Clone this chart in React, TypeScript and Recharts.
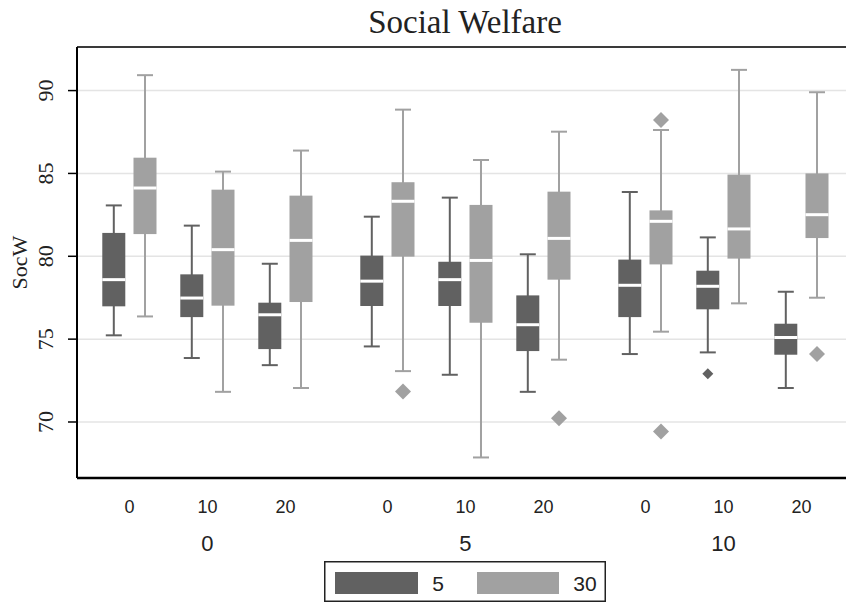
import type { FC } from "react";
import { ComposedChart, Bar, XAxis, YAxis, CartesianGrid, Legend } from "recharts";

// categories: outer group, inner sub-category, series
const GROUPS = ["0", "5", "10"];
const SUBS = ["0", "10", "20"];
const SERIES = ["5", "30"];
const Y_TICKS = [70, 75, 80, 85, 90];

// series "5" — one value per group x sub (0/0, 0/10, 0/20, 5/0, ...)
const LOW_5 = [75.23, 73.86, 73.43, 74.56, 72.85, 71.82, 74.1, 74.2, 72.05];
const Q1_5 = [76.98, 76.33, 74.4, 77.0, 77.0, 74.28, 76.33, 76.8, 74.06];
const MED_5 = [78.59, 77.48, 76.47, 78.5, 78.59, 75.87, 78.25, 78.19, 75.1];
const Q3_5 = [81.41, 78.91, 77.2, 80.04, 79.67, 77.64, 79.8, 79.13, 75.93];
const HIGH_5 = [83.07, 81.85, 79.55, 82.39, 83.54, 80.12, 83.88, 81.14, 77.86];
const OUT_5: number[][] = [[], [], [], [], [], [], [], [72.91], []];

// series "30"
const LOW_30 = [76.37, 71.82, 72.05, 73.07, 67.86, 73.76, 75.45, 77.16, 77.5];
const Q1_30 = [81.34, 77.02, 77.24, 79.98, 75.99, 78.59, 79.51, 79.86, 81.1];
const MED_30 = [84.12, 80.4, 80.96, 83.32, 79.75, 81.08, 82.11, 81.65, 82.51];
const Q3_30 = [85.95, 84.02, 83.66, 84.47, 83.1, 83.9, 82.77, 84.93, 85.0];
const HIGH_30 = [90.93, 85.11, 86.38, 88.85, 85.81, 87.52, 87.62, 91.25, 89.9];
const OUT_30: number[][] = [[], [], [], [71.84], [], [70.23], [88.23, 69.43], [], [74.1]];

const COLORS: Record<string, string> = { "5": "#616161", "30": "#a1a1a1" };
const OUTLIER_R: Record<string, number> = { "5": 5.5, "30": 8 };

const GROUP_GAP = 0.3077;
const BOX_SHIFT = 0.2;
const X_MIN = -0.673;
const X_MAX = 9.186;
const Y_MIN = 66.62;
const Y_MAX = 92.63;

const STATS = [
  { low: LOW_5, q1: Q1_5, med: MED_5, q3: Q3_5, high: HIGH_5, out: OUT_5 },
  { low: LOW_30, q1: Q1_30, med: MED_30, q3: Q3_30, high: HIGH_30, out: OUT_30 },
];

const pairPos = (gi: number, k: number) => gi * (SUBS.length + GROUP_GAP) + k;
const PAIR_POS = GROUPS.flatMap((_, gi) => SUBS.map((_, k) => pairPos(gi, k)));
const GROUP_POS = GROUPS.map((_, gi) => pairPos(gi, 1));

const rows = SERIES.flatMap((s, si) =>
  GROUPS.flatMap((_, gi) =>
    SUBS.map((_, k) => {
      const i = gi * SUBS.length + k;
      const st = STATS[si];
      const outliers = st.out[i];
      return {
        pos: pairPos(gi, k) + (si === 0 ? -BOX_SHIFT : BOX_SHIFT),
        series: s,
        low: st.low[i],
        q1: st.q1[i],
        med: st.med[i],
        q3: st.q3[i],
        high: st.high[i],
        outliers,
        range: [Math.min(st.low[i], ...outliers), Math.max(st.high[i], ...outliers)],
      };
    })
  )
).sort((a, b) => a.pos - b.pos);

const BoxShape = (props: any) => {
  const { x, y, width, height, payload } = props;
  const top = Math.min(y, y + height);
  const h = Math.abs(height);
  const [lo, hi] = payload.range;
  const toY = (v: number) => top + (h * (hi - v)) / (hi - lo);
  const cx = x + width / 2;
  const color = COLORS[payload.series];
  const r = OUTLIER_R[payload.series];
  return (
    <g>
      <line x1={cx} x2={cx} y1={toY(payload.high)} y2={toY(payload.low)} stroke={color} strokeWidth={2} />
      <line x1={cx - 8} x2={cx + 8} y1={toY(payload.high)} y2={toY(payload.high)} stroke={color} strokeWidth={2} />
      <line x1={cx - 8} x2={cx + 8} y1={toY(payload.low)} y2={toY(payload.low)} stroke={color} strokeWidth={2} />
      <rect
        x={x}
        y={toY(payload.q3)}
        width={width}
        height={toY(payload.q1) - toY(payload.q3)}
        fill={color}
      />
      <line x1={x} x2={x + width} y1={toY(payload.med)} y2={toY(payload.med)} stroke="#fff" strokeWidth={3} />
      {payload.outliers.map((v: number, j: number) => {
        const oy = toY(v);
        return (
          <polygon
            key={j}
            points={`${cx},${oy - r} ${cx + r},${oy} ${cx},${oy + r} ${cx - r},${oy}`}
            fill={color}
          />
        );
      })}
    </g>
  );
};

const YTick = (props: any) => {
  const { x, y, payload } = props;
  return (
    <text
      transform={`translate(${x - 23},${y}) rotate(-90)`}
      textAnchor="middle"
      dominantBaseline="central"
      fontFamily="Liberation Serif, serif"
      fontSize={22}
      fill="#222"
    >
      {payload.value}
    </text>
  );
};

const YLabel = (props: any) => {
  const vb = props.viewBox;
  return (
    <text
      transform={`translate(${vb.x + 19},${vb.y + vb.height / 2}) rotate(-90)`}
      textAnchor="middle"
      dominantBaseline="central"
      fontFamily="Liberation Serif, serif"
      fontSize={22}
      fill="#222"
    >
      SocW
    </text>
  );
};

const LegendBox = () => (
  <svg width={282} height={41}>
    <rect x={0.75} y={0.75} width={280.5} height={39.5} fill="#fff" stroke="#222" strokeWidth={1.5} />
    <rect x={11} y={11} width={83} height={22} fill={COLORS["5"]} />
    <text x={114} y={22} textAnchor="middle" dominantBaseline="central" fontFamily="Liberation Sans, sans-serif" fontSize={21} fill="#222">
      {SERIES[0]}
    </text>
    <rect x={153} y={11} width={82} height={22} fill={COLORS["30"]} />
    <text x={261} y={22} textAnchor="middle" dominantBaseline="central" fontFamily="Liberation Sans, sans-serif" fontSize={21} fill="#222">
      {SERIES[1]}
    </text>
  </svg>
);

const App: FC = () => (
  <div style={{ position: "absolute", left: 0, top: 0, width: 846, height: 603, background: "#fff" }}>
    <svg width={846} height={46} style={{ position: "absolute", left: 0, top: 0 }}>
      <text x={465} y={33} textAnchor="middle" fontFamily="Liberation Serif, serif" fontSize={33} fill="#222">
        Social Welfare
      </text>
    </svg>
    <ComposedChart width={846} height={603} data={rows} margin={{ top: 46, right: 0, bottom: 48, left: 0 }}>
      <CartesianGrid xAxisId="x0sub" vertical={false} stroke="#e4e4e4" strokeWidth={1.5} />
      <XAxis
        xAxisId="x0sub"
        dataKey="pos"
        type="number"
        domain={[X_MIN, X_MAX]}
        allowDataOverflow
        ticks={PAIR_POS}
        interval={0}
        tickFormatter={(_v: number, i: number) => SUBS[i % SUBS.length]}
        height={37}
        tickSize={0}
        tickMargin={22}
        tickLine={false}
        axisLine={{ stroke: "#000", strokeWidth: 2.5 }}
        tick={{ fontSize: 18, fill: "#222", fontFamily: "Liberation Sans, sans-serif" }}
      />
      <XAxis
        xAxisId="x1grp"
        dataKey="pos"
        type="number"
        domain={[X_MIN, X_MAX]}
        allowDataOverflow
        ticks={GROUP_POS}
        interval={0}
        tickFormatter={(_v: number, i: number) => GROUPS[i]}
        height={40}
        tickSize={0}
        tickMargin={20}
        tickLine={false}
        axisLine={false}
        tick={{ fontSize: 22, fill: "#222", fontFamily: "Liberation Sans, sans-serif" }}
      />
      <XAxis
        xAxisId="x2top"
        orientation="top"
        dataKey="pos"
        type="number"
        domain={[X_MIN, X_MAX]}
        allowDataOverflow
        height={1}
        tick={false}
        tickLine={false}
        axisLine={{ stroke: "#3a3a3a", strokeWidth: 2 }}
      />
      <YAxis
        type="number"
        domain={[Y_MIN, Y_MAX]}
        allowDataOverflow
        ticks={Y_TICKS}
        interval={0}
        width={77}
        tickSize={9}
        tickMargin={0}
        axisLine={{ stroke: "#000", strokeWidth: 2 }}
        tickLine={{ stroke: "#000", strokeWidth: 1.5 }}
        tick={<YTick />}
        label={<YLabel />}
      />
      <Bar
        xAxisId="x0sub"
        dataKey="range"
        barSize={23}
        shape={<BoxShape />}
        isAnimationActive={false}
      />
      <Legend
        layout="horizontal"
        verticalAlign="middle"
        align="center"
        wrapperStyle={{ left: 324, top: 561, width: 282, height: 41 }}
        content={() => <LegendBox />}
      />
    </ComposedChart>
  </div>
);

export default App;
